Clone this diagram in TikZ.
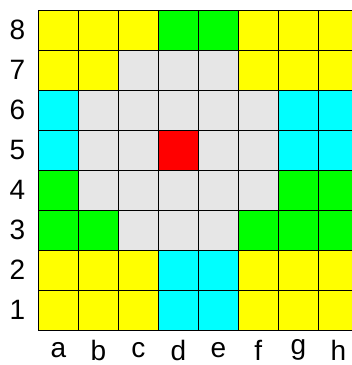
\documentclass[tikz,border=0pt]{standalone}
\usepackage{fontspec}
\setmainfont{Liberation Sans}
\definecolor{cy}{RGB}{255,255,0}
\definecolor{cg}{RGB}{0,255,0}
\definecolor{cc}{RGB}{0,255,255}
\definecolor{cl}{RGB}{230,230,230}
\definecolor{cr}{RGB}{255,0,0}
\begin{document}
\begin{tikzpicture}[x=1pt,y=1pt,
  cell/.style={draw=black,line width=0.8pt,minimum size=40pt,inner sep=0pt,outer sep=0pt},
  lab/.style={font=\fontsize{28}{30}\selectfont,inner sep=0pt}]
\useasboundingbox (0,0) rectangle (352,365);
\clip (0,0) rectangle (352,365);
\fill[white] (0,0) rectangle (352,365);
\foreach \r/\cols in {
  8/{cy,cy,cy,cg,cg,cy,cy,cy},
  7/{cy,cy,cl,cl,cl,cy,cy,cy},
  6/{cc,cl,cl,cl,cl,cl,cc,cc},
  5/{cc,cl,cl,cr,cl,cl,cc,cc},
  4/{cg,cl,cl,cl,cl,cl,cg,cg},
  3/{cg,cg,cl,cl,cl,cg,cg,cg},
  2/{cy,cy,cy,cc,cc,cy,cy,cy},
  1/{cy,cy,cy,cc,cc,cy,cy,cy}}{
  \foreach \c [count=\i from 0] in \cols {
    \node[cell,fill=\c] (cell-\i-\r) at ({58.3+40*\i},{40*\r+15}) {};
  }
  \node[lab] (row-\r) at (17.5,{40*\r+15}) {\r};
}
\foreach \l [count=\i from 0] in {a,b,c,d,e,f,g,h} {
  \node[lab] (col-\l) at ({58.3+40*\i},15) {\l};
}
\end{tikzpicture}
\end{document}
